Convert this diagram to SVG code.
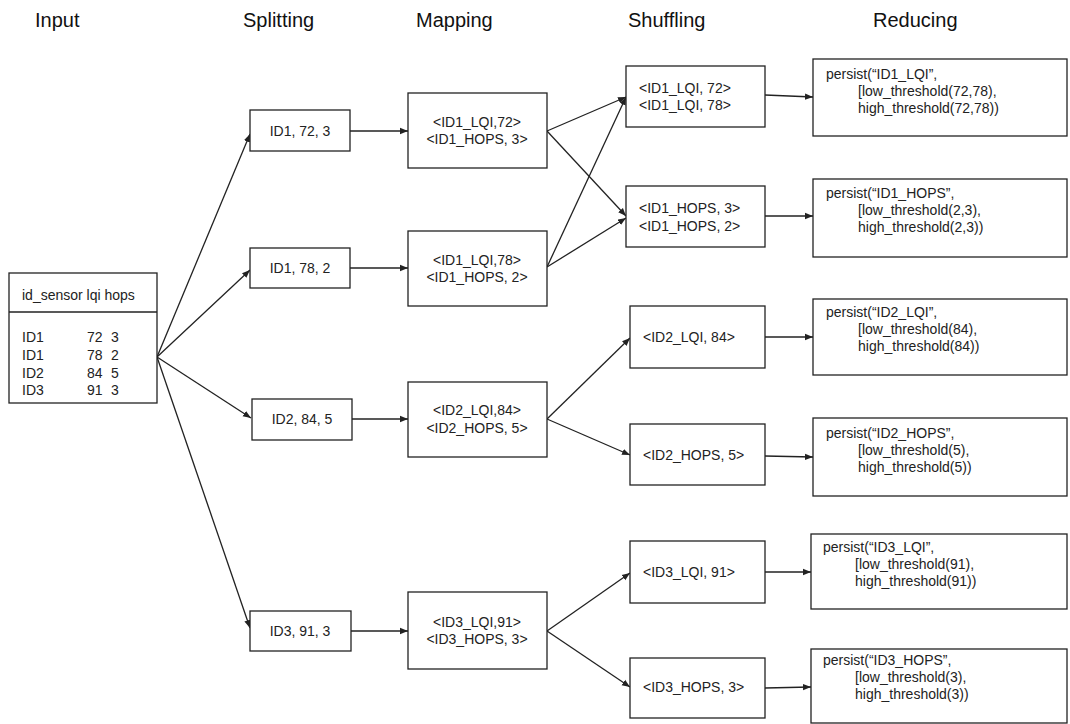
<svg xmlns="http://www.w3.org/2000/svg" width="1070" height="724" viewBox="0 0 1070 724">
  <style>
    .box { fill: #fff; stroke: #222; stroke-width: 1.3; }
    .t { font-family: "Liberation Sans", Arial, sans-serif; font-size: 14px; fill: #222; }
    .c { text-anchor: middle; }
    .h { font-family: "Liberation Sans", Arial, sans-serif; font-size: 20px; fill: #111; }
    .edge { stroke: #222; stroke-width: 1.3; fill: none; marker-end: url(#arrow); }
  </style>
  <defs>
    <marker id="arrow" viewBox="0 0 10 10" refX="10" refY="5" markerWidth="8" markerHeight="8" markerUnits="userSpaceOnUse" orient="auto">
      <path d="M0,1 L10,5 L0,9 Z" fill="#222"/>
    </marker>
  </defs>
  <rect width="1070" height="724" fill="#fff"/>

  <!-- stage headers -->
  <g id="headers">
    <text class="h" x="35" y="27">Input</text>
    <text class="h" x="243" y="27">Splitting</text>
    <text class="h" x="416" y="27">Mapping</text>
    <text class="h" x="628" y="27">Shuffling</text>
    <text class="h" x="873" y="27">Reducing</text>
  </g>

  <!-- connectors -->
  <g id="connectors">
    <line class="edge" x1="157" y1="357" x2="250" y2="134"/>
    <line class="edge" x1="157" y1="357" x2="250" y2="270"/>
    <line class="edge" x1="157" y1="357" x2="251" y2="418"/>
    <line class="edge" x1="157" y1="357" x2="250" y2="628"/>

    <line class="edge" x1="350" y1="131" x2="408" y2="131"/>
    <line class="edge" x1="350" y1="268" x2="408" y2="268"/>
    <line class="edge" x1="352" y1="419" x2="408" y2="419"/>
    <line class="edge" x1="351" y1="631" x2="408" y2="631"/>

    <line class="edge" x1="547" y1="131" x2="626" y2="97"/>
    <line class="edge" x1="547" y1="131" x2="626" y2="216"/>
    <line class="edge" x1="547" y1="267" x2="626" y2="97"/>
    <line class="edge" x1="547" y1="267" x2="626" y2="218"/>
    <line class="edge" x1="547" y1="419" x2="630" y2="338"/>
    <line class="edge" x1="547" y1="419" x2="630" y2="455"/>
    <line class="edge" x1="547" y1="631" x2="630" y2="573"/>
    <line class="edge" x1="547" y1="631" x2="630" y2="687"/>

    <line class="edge" x1="765" y1="95" x2="813" y2="97"/>
    <line class="edge" x1="765" y1="216" x2="813" y2="216"/>
    <line class="edge" x1="765" y1="337" x2="813" y2="337"/>
    <line class="edge" x1="765" y1="456" x2="813" y2="457"/>
    <line class="edge" x1="765" y1="572" x2="811" y2="572"/>
    <line class="edge" x1="765" y1="688" x2="811" y2="687"/>
  </g>

  <!-- input table -->
  <g id="input">
    <rect class="box" x="9" y="273" width="148" height="130"/>
    <line x1="9" y1="312" x2="157" y2="312" stroke="#222" stroke-width="1.3"/>
    <text class="t" x="22" y="300">id_sensor lqi hops</text>
    <text class="t" x="22" y="342">ID1<tspan x="87">72</tspan><tspan x="111">3</tspan></text>
    <text class="t" x="22" y="360">ID1<tspan x="87">78</tspan><tspan x="111">2</tspan></text>
    <text class="t" x="22" y="378">ID2<tspan x="87">84</tspan><tspan x="111">5</tspan></text>
    <text class="t" x="22" y="395">ID3<tspan x="87">91</tspan><tspan x="111">3</tspan></text>
  </g>

  <!-- splitting -->
  <g id="split1"><rect class="box" x="250" y="110" width="100" height="41"/><text class="t c" x="300" y="136">ID1, 72, 3</text></g>
  <g id="split2"><rect class="box" x="250" y="248" width="100" height="40"/><text class="t c" x="300" y="273">ID1, 78, 2</text></g>
  <g id="split3"><rect class="box" x="252" y="399" width="100" height="41"/><text class="t c" x="302" y="424">ID2, 84, 5</text></g>
  <g id="split4"><rect class="box" x="250" y="611" width="101" height="40"/><text class="t c" x="300" y="636">ID3, 91, 3</text></g>

  <!-- mapping -->
  <g id="map1"><rect class="box" x="408" y="93" width="139" height="75"/>
    <text class="t c" x="477" y="127">&lt;ID1_LQI,72&gt;</text><text class="t c" x="477" y="144">&lt;ID1_HOPS, 3&gt;</text></g>
  <g id="map2"><rect class="box" x="408" y="231" width="139" height="75"/>
    <text class="t c" x="477" y="265">&lt;ID1_LQI,78&gt;</text><text class="t c" x="477" y="282">&lt;ID1_HOPS, 2&gt;</text></g>
  <g id="map3"><rect class="box" x="408" y="382" width="139" height="75"/>
    <text class="t c" x="477" y="415">&lt;ID2_LQI,84&gt;</text><text class="t c" x="477" y="433">&lt;ID2_HOPS, 5&gt;</text></g>
  <g id="map4"><rect class="box" x="408" y="592" width="139" height="77"/>
    <text class="t c" x="477" y="627">&lt;ID3_LQI,91&gt;</text><text class="t c" x="477" y="644">&lt;ID3_HOPS, 3&gt;</text></g>

  <!-- shuffling -->
  <g id="shuf1"><rect class="box" x="626" y="66" width="139" height="61"/>
    <text class="t" x="639" y="93">&lt;ID1_LQI, 72&gt;</text><text class="t" x="639" y="110">&lt;ID1_LQI, 78&gt;</text></g>
  <g id="shuf2"><rect class="box" x="626" y="186" width="139" height="61"/>
    <text class="t" x="639" y="213">&lt;ID1_HOPS, 3&gt;</text><text class="t" x="639" y="231">&lt;ID1_HOPS, 2&gt;</text></g>
  <g id="shuf3"><rect class="box" x="630" y="306" width="135" height="62"/>
    <text class="t" x="643" y="342">&lt;ID2_LQI, 84&gt;</text></g>
  <g id="shuf4"><rect class="box" x="630" y="424" width="135" height="61"/>
    <text class="t" x="643" y="460">&lt;ID2_HOPS, 5&gt;</text></g>
  <g id="shuf5"><rect class="box" x="630" y="541" width="135" height="62"/>
    <text class="t" x="643" y="577">&lt;ID3_LQI, 91&gt;</text></g>
  <g id="shuf6"><rect class="box" x="630" y="658" width="135" height="60"/>
    <text class="t" x="643" y="692">&lt;ID3_HOPS, 3&gt;</text></g>

  <!-- reducing -->
  <g id="red1"><rect class="box" x="813" y="59" width="254" height="77"/>
    <text class="t" x="826" y="79">persist(“ID1_LQI”,</text>
    <text class="t" x="858" y="96">[low_threshold(72,78),</text>
    <text class="t" x="858" y="113">high_threshold(72,78))</text></g>
  <g id="red2"><rect class="box" x="813" y="179" width="254" height="78"/>
    <text class="t" x="826" y="198">persist(“ID1_HOPS”,</text>
    <text class="t" x="858" y="215">[low_threshold(2,3),</text>
    <text class="t" x="858" y="232">high_threshold(2,3))</text></g>
  <g id="red3"><rect class="box" x="813" y="299" width="254" height="76"/>
    <text class="t" x="826" y="317">persist(“ID2_LQI”,</text>
    <text class="t" x="858" y="334">[low_threshold(84),</text>
    <text class="t" x="858" y="351">high_threshold(84))</text></g>
  <g id="red4"><rect class="box" x="813" y="418" width="254" height="78"/>
    <text class="t" x="826" y="438">persist(“ID2_HOPS”,</text>
    <text class="t" x="858" y="455">[low_threshold(5),</text>
    <text class="t" x="858" y="472">high_threshold(5))</text></g>
  <g id="red5"><rect class="box" x="811" y="534" width="256" height="75"/>
    <text class="t" x="823" y="552">persist(“ID3_LQI”,</text>
    <text class="t" x="855" y="569">[low_threshold(91),</text>
    <text class="t" x="855" y="586">high_threshold(91))</text></g>
  <g id="red6"><rect class="box" x="811" y="649" width="256" height="74"/>
    <text class="t" x="823" y="665">persist(“ID3_HOPS”,</text>
    <text class="t" x="855" y="682">[low_threshold(3),</text>
    <text class="t" x="855" y="699">high_threshold(3))</text></g>
</svg>
